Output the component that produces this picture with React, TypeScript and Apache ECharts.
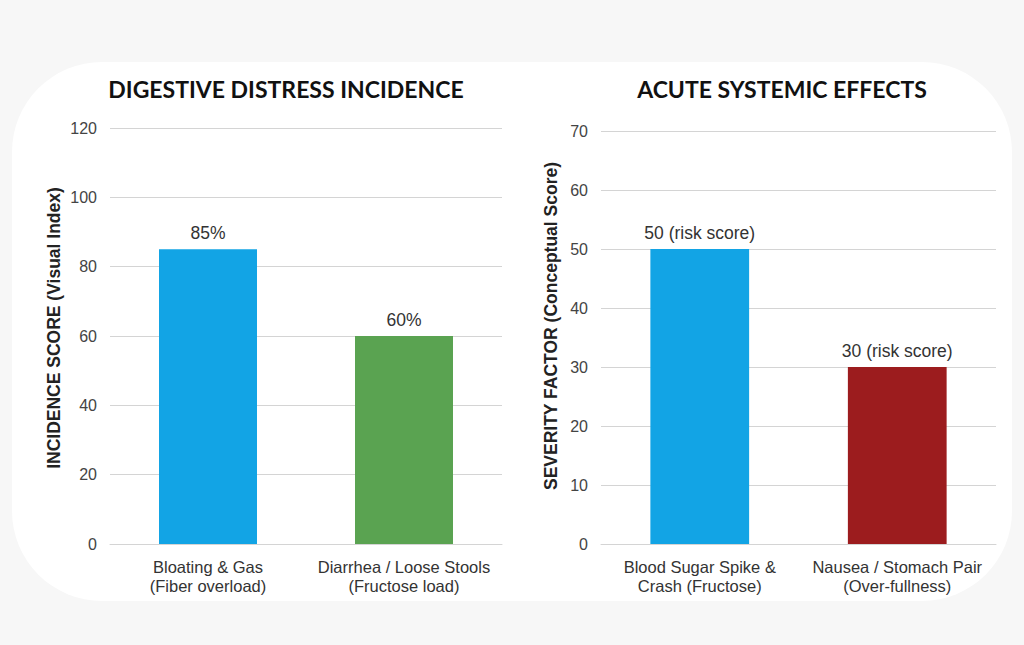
import React, { useEffect, useRef } from "react";
import * as echarts from "echarts";

const leftTitle = "DIGESTIVE DISTRESS INCIDENCE";
const rightTitle = "ACUTE SYSTEMIC EFFECTS";
const leftAxisName = "INCIDENCE SCORE (Visual Index)";
const rightAxisName = "SEVERITY FACTOR (Conceptual Score)";

const leftCategories = ["Bloating & Gas\n(Fiber overload)", "Diarrhea / Loose Stools\n(Fructose load)"];
const leftValues = [85, 60];
const leftLabels = ["85%", "60%"];
const leftColors = ["#12a4e5", "#5aa351"];

const rightCategories = ["Blood Sugar Spike &\nCrash (Fructose)", "Nausea / Stomach Pair\n(Over-fullness)"];
const rightValues = [50, 30];
const rightLabels = ["50 (risk score)", "30 (risk score)"];
const rightColors = ["#12a4e5", "#9c1c1e"];

const FONT = "Liberation Sans, Arial, sans-serif";
const tickFont = { color: "#444", fontSize: 16, fontFamily: FONT };

export default function App() {
  const ref = useRef<HTMLDivElement>(null);
  useEffect(() => {
    const chart = echarts.init(ref.current!, null, { renderer: "svg" });
    const yAxisCommon = (max: number, interval: number) => ({
      type: "value",
      min: 0,
      max,
      interval,
      axisLine: { show: false },
      axisTick: { show: false },
      axisLabel: { ...tickFont, margin: 13 },
      splitLine: { lineStyle: { color: "#d4d4d4", width: 1 } },
    });
    const xAxisCommon = (cats: string[]) => ({
      type: "category",
      data: cats,
      axisLine: { lineStyle: { color: "#d4d4d4", width: 1 } },
      axisTick: { show: false },
      axisLabel: { color: "#333", fontSize: 16.5, fontFamily: FONT, margin: 13, lineHeight: 19, interval: 0 },
    });
    const barSeries = (idx: number, values: number[], labels: string[], colors: string[]) => ({
      type: "bar",
      xAxisIndex: idx,
      yAxisIndex: idx,
      barWidth: "50%",
      data: values.map((v, i) => ({ value: v, itemStyle: { color: colors[i] } })),
      label: {
        show: true,
        position: "top",
        distance: 7,
        color: "#333",
        fontSize: 17.5,
        fontFamily: FONT,
        formatter: (p: any) => labels[p.dataIndex],
      },
    });
    const axisNameStyle = { textAlign: "center", textVerticalAlign: "middle", fill: "#222", font: "bold 17.5px Liberation Sans, Arial, sans-serif" };
    chart.setOption({
      animation: false,
      backgroundColor: "#f7f7f7",
      graphic: [
        { type: "rect", z: -10, shape: { x: 12, y: 62, width: 1000, height: 539, r: 90 }, style: { fill: "#ffffff" } },
        {
          type: "text",
          x: 286,
          y: 89,
          style: { text: leftTitle, textAlign: "center", textVerticalAlign: "middle", fill: "#111", font: "bold 23px Lato, 'Noto Sans', sans-serif" },
        },
        {
          type: "text",
          x: 782,
          y: 89,
          style: { text: rightTitle, textAlign: "center", textVerticalAlign: "middle", fill: "#111", font: "bold 23px Lato, 'Noto Sans', sans-serif" },
        },
        { type: "text", x: 54, y: 328, rotation: Math.PI / 2, style: { text: leftAxisName, ...axisNameStyle } },
        { type: "text", x: 551, y: 326, rotation: Math.PI / 2, style: { text: rightAxisName, ...axisNameStyle } },
      ],
      grid: [
        { left: 110, top: 128, width: 392, height: 416 },
        { left: 601, top: 131, width: 395, height: 413 },
      ],
      xAxis: [
        { ...xAxisCommon(leftCategories), gridIndex: 0 },
        { ...xAxisCommon(rightCategories), gridIndex: 1 },
      ],
      yAxis: [
        { ...yAxisCommon(120, 20), gridIndex: 0 },
        { ...yAxisCommon(70, 10), gridIndex: 1 },
      ],
      series: [
        barSeries(0, leftValues, leftLabels, leftColors),
        barSeries(1, rightValues, rightLabels, rightColors),
      ],
    });
    return () => chart.dispose();
  }, []);
  return <div ref={ref} style={{ position: "absolute", left: 0, top: 0, width: 1024, height: 645 }} />;
}
